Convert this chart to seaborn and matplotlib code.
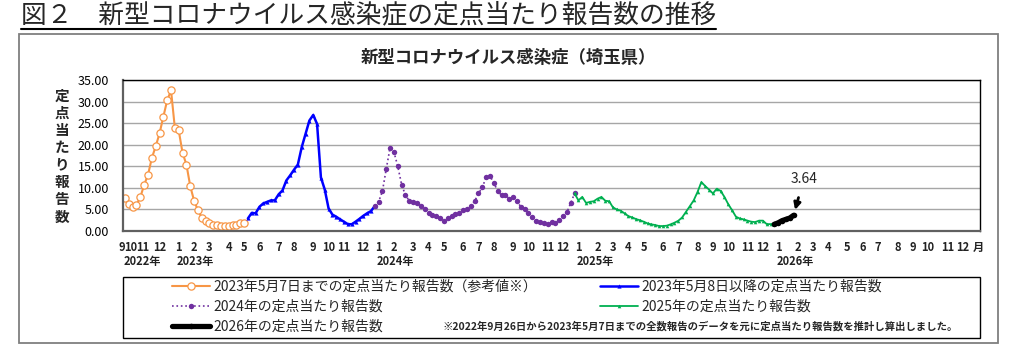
import numpy as np
import pandas as pd
import matplotlib
matplotlib.use("Agg")
import matplotlib.pyplot as plt
import seaborn as sns
from matplotlib.lines import Line2D
from matplotlib.patches import Rectangle
from matplotlib.ticker import StrMethodFormatter

# ---------------- data ----------------
axis_start = "2022-09-26"          # first week on the category axis
axis_end_week = 222                 # last category ("月" label)

orange_first = "2022-09-26"
orange_vals = [7.67, 6.37, 5.5, 6.1, 7.8, 10.7, 13.0, 16.9, 19.6, 22.6, 26.5, 30.3, 32.6,
               23.8, 23.3, 18.1, 15.4, 10.4, 7.0, 4.8, 3.1, 2.4, 1.8, 1.5, 1.3, 1.15, 1.1,
               1.2, 1.35, 1.5, 1.75, 1.85]

blue_first = "2023-05-08"
blue_vals = [2.9, 4.2, 4.1, 5.6, 6.4, 6.75, 7.1, 7.1, 8.5, 9.4, 11.7, 12.9, 14.2, 15.4,
             19.4, 22.5, 25.6, 26.9, 24.8, 12.4, 9.6, 5.2, 3.8, 3.3, 2.7, 2.15, 1.6, 1.55,
             2.15, 2.8, 3.5, 4.1, 4.6, 5.76]

purple_first = "2023-12-25"
purple_vals = [5.76, 6.75, 9.2, 14.4, 19.3, 18.3, 15.0, 10.75, 8.3, 7.0, 6.8, 6.4, 5.9,
               5.07, 4.2, 3.7, 3.45, 3.07, 2.3, 2.9, 3.45, 3.9, 4.2, 4.8, 5.1, 5.75, 6.9,
               8.7, 10.1, 12.5, 12.7, 11.2, 9.2, 8.3, 8.45, 7.4, 7.9, 7.0, 5.6, 5.0, 4.2,
               3.15, 2.4, 2.07, 1.9, 1.6, 2.07, 1.9, 2.5, 3.45, 4.3, 6.5, 8.7]

green_first = "2024-12-23"
green_vals = [8.7, 7.1, 7.9, 6.5, 6.75, 6.9, 7.5, 7.9, 7.0, 6.9, 5.45, 5.0, 4.7, 4.1,
              3.45, 3.15, 2.76, 2.5, 2.15, 1.77, 1.54, 1.38, 1.15, 1.15, 1.23, 1.54, 1.92,
              2.38, 3.15, 4.45, 5.76, 7.1, 9.05, 11.35, 10.4, 9.6, 8.7, 9.8, 9.3, 7.9, 6.2,
              4.8, 3.3, 2.9, 2.7, 2.4, 2.15, 2.07, 2.4, 2.4, 1.6, 1.6, 1.54]

black_first = "2025-12-22"
black_vals = [1.54, 1.9, 2.4, 2.7, 3.0, 3.64]

series_labels = ["2023年5月7日までの定点当たり報告数（参考値※）",
                 "2023年5月8日以降の定点当たり報告数",
                 "2024年の定点当たり報告数",
                 "2025年の定点当たり報告数",
                 "2026年の定点当たり報告数"]

month_range = ("2022-09-01", "2026-12-01")
year_labels = ["2022年", "2023年", "2024年", "2025年", "2026年"]
ytick_vals = [0, 5, 10, 15, 20, 25, 30, 35]

header = "図２　新型コロナウイルス感染症の定点当たり報告数の推移"
title = "新型コロナウイルス感染症（埼玉県）"
ylabel = "定点当たり報告数"
note = "※2022年9月26日から2023年5月7日までの全数報告のデータを元に定点当たり報告数を推計し算出しました。"

# ---------------- helpers ----------------
t0 = pd.Timestamp(axis_start)


def week_of(date_str):
    return int((pd.Timestamp(date_str) - t0).days // 7)


def frame(first, vals):
    w0 = week_of(first)
    return pd.DataFrame({"week": np.arange(w0, w0 + len(vals)), "value": vals})


# ---------------- style ----------------
sns.set_theme(style="white")
plt.rcParams["font.family"] = ["Noto Sans CJK JP", "DejaVu Sans"]

W, H = 1024, 355
fig = plt.figure(figsize=(W / 100, H / 100), dpi=100)


def fx(px):
    return px / W


def fy(py):
    return 1 - py / H


ax = fig.add_axes([fx(123), fy(231), fx(980) - fx(123), fy(80) - fy(231)])

ORANGE = "#F79646"
BLUE = "#0000FF"
PURPLE = "#7030A0"
GREEN = "#00B050"

sns.lineplot(data=frame(orange_first, orange_vals), x="week", y="value", ax=ax,
             color=ORANGE, lw=1.5, marker="o", markersize=5.2, markerfacecolor="white",
             markeredgecolor=ORANGE, markeredgewidth=0.9, legend=False)
sns.lineplot(data=frame(blue_first, blue_vals), x="week", y="value", ax=ax,
             color=BLUE, lw=1.8, marker="^", markersize=3.0, markeredgewidth=0,
             legend=False)
sns.lineplot(data=frame(purple_first, purple_vals), x="week", y="value", ax=ax,
             color=PURPLE, lw=1.2, linestyle=":", marker="o", markersize=3.9,
             markeredgewidth=0, legend=False)
sns.lineplot(data=frame(green_first, green_vals), x="week", y="value", ax=ax,
             color=GREEN, lw=1.3, marker="^", markersize=2.6, markeredgewidth=0,
             legend=False)
sns.lineplot(data=frame(black_first, black_vals), x="week", y="value", ax=ax,
             color="black", lw=3.8, marker="o", markersize=4, markeredgewidth=0,
             legend=False)

h_orange, h_blue, h_purple, h_green, h_black = ax.lines[:5]

# axes
ax.set_xlim(-0.5, axis_end_week + 0.5)
ax.set_ylim(0, 35)
ax.set_yticks(ytick_vals)
ax.yaxis.set_major_formatter(StrMethodFormatter("{x:.2f}"))
ax.tick_params(axis="y", length=0, pad=10, labelsize=9, labelcolor="black")
ax.set_xlabel("")
ax.set_ylabel("")
ax.grid(axis="y", color="#A6A6A6", lw=1)
ax.grid(axis="x", visible=False)
for s in ["top", "right"]:
    ax.spines[s].set_color("black")
    ax.spines[s].set_linewidth(1)
for s in ["left", "bottom"]:
    ax.spines[s].set_color("#606060")
    ax.spines[s].set_linewidth(1.6)

# month ticks: first week whose Thursday falls in the month
months = pd.date_range(month_range[0], month_range[1], freq="MS")
thu0 = t0 + pd.Timedelta(days=3)
tick_pos = [float(max(0, int(np.ceil((m - thu0).days / 7)))) for m in months]
tick_pos[1] += 0.45          # nudge crowded "10" away from "9"
tick_pos[2] -= 0.4
tick_lab = [str(m.month) for m in months]
tick_pos.append(axis_end_week)
tick_lab.append("月")
ax.set_xticks(tick_pos)
ax.set_xticklabels(tick_lab)
ax.tick_params(axis="x", length=0, pad=7, labelsize=8)
for t in ax.get_xticklabels():
    t.set_fontweight("bold")
    t.set_color("#222222")
ax.get_xticklabels()[0].set_ha("right")

# year labels under January (first one under the first category)
year_pos = [0] + [p for p, m in zip(tick_pos, months) if m.month == 1]
for p, lab in zip(year_pos, year_labels):
    ax.text(p - 0.45, -0.205, lab, transform=ax.get_xaxis_transform(), ha="left",
            va="center", fontsize=8, fontweight="bold", color="#222222")

# annotation of latest value
bw = frame(black_first, black_vals)
ax.annotate(f"{black_vals[-1]:.2f}", xy=(bw.week.iloc[-1], black_vals[-1]),
            xytext=(bw.week.iloc[-1] + 2.6, 12.0), ha="center", va="center", fontsize=10,
            arrowprops=dict(arrowstyle="-|>", color="black", lw=2, mutation_scale=10,
                            shrinkA=6, shrinkB=4))

# texts
fig.text(fx(21), fy(15), header, fontsize=18.5, va="center", ha="left")
fig.add_artist(Line2D([fx(21), fx(716)], [fy(28.5), fy(28.5)], color="black", lw=1.5))
fig.add_artist(Rectangle((fx(19), fy(343)), fx(998) - fx(19), fy(34) - fy(343),
                         fill=False, edgecolor="#7F7F7F", lw=1.3))
fig.text(fx(508), fy(58), title, fontsize=12.5, fontweight="bold", ha="center", va="center")
fig.text(fx(62), fy(156), "\n".join(ylabel), fontsize=10.5, fontweight="bold",
         ha="center", va="center", linespacing=1.1)

# legend
fig.add_artist(Rectangle((fx(123), fy(338)), fx(980) - fx(123), fy(277) - fy(338),
                         fill=False, edgecolor="black", lw=1))
common = dict(loc="upper left", frameon=False, borderpad=0, borderaxespad=0,
              handlelength=2.7, handletextpad=0.25, labelspacing=0.42, fontsize=10)
fig.legend(handles=[h_orange, h_purple, h_black],
           labels=[series_labels[0], series_labels[2], series_labels[4]],
           bbox_to_anchor=(fx(172), fy(280)), **common)
fig.legend(handles=[h_blue, h_green],
           labels=[series_labels[1], series_labels[3]],
           bbox_to_anchor=(fx(600), fy(280)), **common)
fig.text(fx(443), fy(326), note, fontsize=7.45, fontweight="bold", ha="left", va="center")

fig.savefig("out.png", dpi=100)
